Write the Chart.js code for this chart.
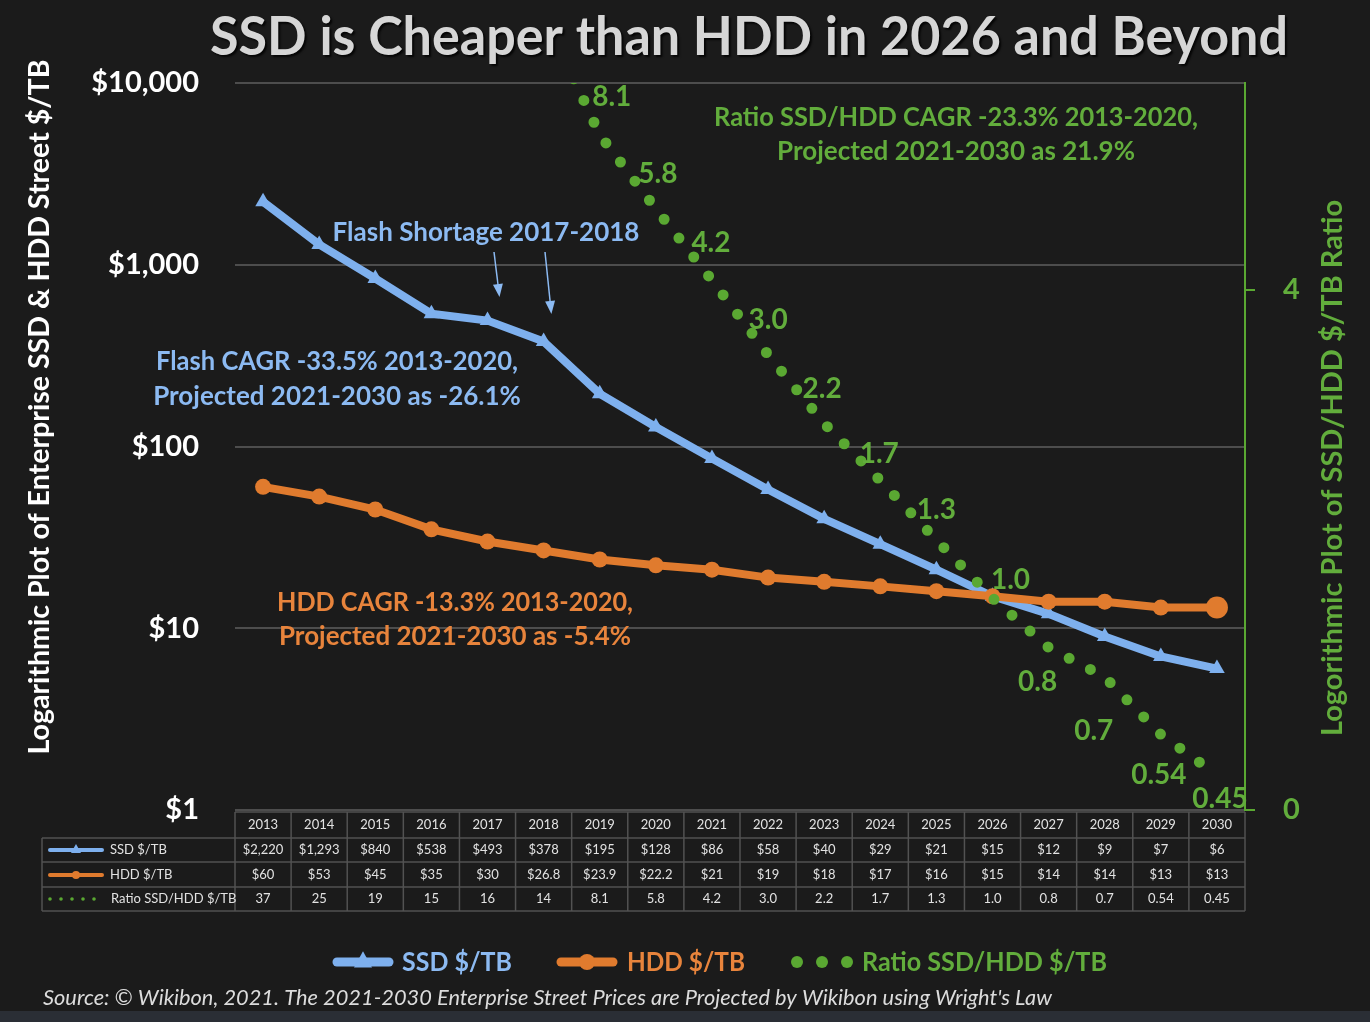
<!DOCTYPE html>
<html>
<head>
<meta charset="utf-8">
<style>
  html, body { margin: 0; padding: 0; background: #1b1b1b; }
  #wrap { width: 1370px; height: 1022px; position: relative; }
</style>
<script src="https://cdn.jsdelivr.net/npm/chart.js@4.4.1/dist/chart.umd.min.js"></script>
</head>
<body>
<div id="wrap"><canvas id="chart" width="1370" height="1022"></canvas></div>
<script>
// --- data ---
const years = ['2013','2014','2015','2016','2017','2018','2019','2020','2021','2022','2023','2024','2025','2026','2027','2028','2029','2030'];
const ssdValues = [2220, 1293, 840, 538, 493, 378, 195, 128, 86, 58, 40, 29, 21, 15, 12, 9, 7, 6];
const hddValues = [60, 53, 45, 35, 30, 26.8, 23.9, 22.2, 21, 19, 18, 17, 16, 15, 14, 14, 13, 13];
const ratioValues = [37, 25, 19, 15, 16, 14, 8.1, 5.8, 4.2, 3.0, 2.2, 1.7, 1.3, 1.0, 0.8, 0.7, 0.54, 0.45];

// table texts
const ssdCells = ['$2,220','$1,293','$840','$538','$493','$378','$195','$128','$86','$58','$40','$29','$21','$15','$12','$9','$7','$6'];
const hddCells = ['$60','$53','$45','$35','$30','$26.8','$23.9','$22.2','$21','$19','$18','$17','$16','$15','$14','$14','$13','$13'];
const ratioCells = ['37','25','19','15','16','14','8.1','5.8','4.2','3.0','2.2','1.7','1.3','1.0','0.8','0.7','0.54','0.45'];

// axis ticks
const leftTicks = [1, 10, 100, 1000, 10000];
const rightTicks = [0, 4];

// colours
const BLUE = '#7eb0ee', BLUE_TXT = '#8cbaf2';
const ORANGE = '#e07b2e', ORANGE_TXT = '#e8843c';
const GREEN = '#5aa832', GREEN_TXT = '#62ad3c';
const FONT = 'Lato, "Open Sans", sans-serif';

// ratio label offsets from each point (null = not shown)
const ratioLabelOffsets = [null, null, null, null, null, null,
  [12, -38], [2, -35], [-1, -37], [0, -35], [-2, -34], [-1, -27], [0, -30],
  [18, -18], [-11, 35], [-11, 54], [-2, 40], [3, 24]];

function txt(ctx, s, x, y, font, color, align, maxW) {
    ctx.font = font;
    ctx.fillStyle = color;
    ctx.textAlign = align || 'center';
    ctx.textBaseline = 'middle';
    if (maxW) ctx.fillText(s, x, y, maxW); else ctx.fillText(s, x, y);
}

function vtxt(ctx, s, x, y, font, color, maxW) {
    ctx.save();
    ctx.translate(x, y);
    ctx.rotate(-Math.PI / 2);
    txt(ctx, s, 0, 0, font, color, 'center', maxW);
    ctx.restore();
}

function arrow(ctx, x1, y1, x2, y2, color) {
    ctx.save();
    ctx.strokeStyle = color;
    ctx.fillStyle = color;
    ctx.lineWidth = 1.5;
    ctx.beginPath();
    ctx.moveTo(x1, y1);
    ctx.lineTo(x2, y2);
    ctx.stroke();
    const a = Math.atan2(y2 - y1, x2 - x1);
    ctx.beginPath();
    ctx.moveTo(x2 + 4 * Math.cos(a), y2 + 4 * Math.sin(a));
    ctx.lineTo(x2 - 9 * Math.cos(a) + 5 * Math.sin(a), y2 - 9 * Math.sin(a) - 5 * Math.cos(a));
    ctx.lineTo(x2 - 9 * Math.cos(a) - 5 * Math.sin(a), y2 - 9 * Math.sin(a) + 5 * Math.cos(a));
    ctx.closePath();
    ctx.fill();
    ctx.restore();
}

// little legend glyphs (used in table and bottom legend)
function lineIcon(ctx, x1, x2, y, color, w, style, r) {
    ctx.save();
    ctx.strokeStyle = color;
    ctx.fillStyle = color;
    ctx.lineWidth = w;
    ctx.lineCap = 'round';
    ctx.beginPath();
    ctx.moveTo(x1, y);
    ctx.lineTo(x2, y);
    ctx.stroke();
    const cx = (x1 + x2) / 2;
    ctx.beginPath();
    if (style === 'triangle') {
        ctx.moveTo(cx, y - r * 1.2);
        ctx.lineTo(cx + r, y + r * 0.6);
        ctx.lineTo(cx - r, y + r * 0.6);
        ctx.closePath();
    } else {
        ctx.arc(cx, y, r, 0, Math.PI * 2);
    }
    ctx.fill();
    ctx.restore();
}

function dotsIcon(ctx, xs, y, r) {
    ctx.save();
    ctx.fillStyle = GREEN;
    xs.forEach(x => { ctx.beginPath(); ctx.arc(x, y, r, 0, Math.PI * 2); ctx.fill(); });
    ctx.restore();
}

const decor = {
    id: 'decor',
    beforeDraw(chart) {
        const ctx = chart.ctx;
        ctx.save();
        ctx.fillStyle = '#1b1b1b';
        ctx.fillRect(0, 0, chart.width, chart.height);
        ctx.fillStyle = '#2a2e35';
        ctx.fillRect(0, 1011, chart.width, 11);
        ctx.restore();
    },
    afterDatasetsDraw(chart) {
        const ctx = chart.ctx;
        const x = chart.scales.x, yr = chart.scales.yr;
        // ratio point labels
        ratioValues.forEach((v, i) => {
            const off = ratioLabelOffsets[i];
            if (!off) return;
            const px = x.getPixelForValue(i), py = yr.getPixelForValue(v);
            txt(ctx, ratioCells[i], px + off[0], py + off[1], 'bold 28px ' + FONT, GREEN_TXT, 'center');
        });
    },
    afterDraw(chart) {
        const ctx = chart.ctx;
        const x = chart.scales.x;
        const area = chart.chartArea;

        // title
        ctx.save();
        ctx.shadowColor = 'rgba(0,0,0,0.8)';
        ctx.shadowOffsetX = 2; ctx.shadowOffsetY = 2; ctx.shadowBlur = 2;
        txt(ctx, 'SSD is Cheaper than HDD in 2026 and Beyond', 749, 38, 'bold 54px ' + FONT, '#d6d6d6', 'center', 1078);
        ctx.restore();

        // axis titles
        vtxt(ctx, 'Logarithmic Plot of Enterprise SSD & HDD Street $/TB', 40, 407, 'bold 29px ' + FONT, '#ffffff', 695);
        vtxt(ctx, 'Logorithmic Plot of SSD/HDD $/TB Ratio', 1333, 468, 'bold 29px ' + FONT, GREEN_TXT, 547);

        // annotations
        txt(ctx, 'Flash Shortage 2017-2018', 486, 233, 'bold 26px ' + FONT, BLUE_TXT, 'center', 308);
        arrow(ctx, 494, 252, 499, 293, BLUE_TXT);
        arrow(ctx, 545, 252, 551, 310, BLUE_TXT);
        txt(ctx, 'Flash CAGR -33.5% 2013-2020,', 337, 362, 'bold 26px ' + FONT, BLUE_TXT, 'center', 362);
        txt(ctx, 'Projected 2021-2030 as -26.1%', 337, 397, 'bold 26px ' + FONT, BLUE_TXT, 'center', 368);
        txt(ctx, 'HDD CAGR -13.3% 2013-2020,', 455, 603, 'bold 26px ' + FONT, ORANGE_TXT, 'center', 356);
        txt(ctx, 'Projected 2021-2030 as -5.4%', 455, 637, 'bold 26px ' + FONT, ORANGE_TXT, 'center', 352);
        txt(ctx, 'Ratio SSD/HDD CAGR -23.3% 2013-2020,', 956, 118, 'bold 26px ' + FONT, GREEN_TXT, 'center', 484);
        txt(ctx, 'Projected 2021-2030 as 21.9%', 956, 152, 'bold 26px ' + FONT, GREEN_TXT, 'center', 358);

        // data table
        const colW = (area.right - area.left) / years.length;
        const rowsY = [812, 838, 862, 887, 911];
        const tableLeft = 42;
        ctx.save();
        ctx.strokeStyle = '#525252';
        ctx.lineWidth = 1.5;
        ctx.beginPath();
        ctx.moveTo(area.left, rowsY[0]); ctx.lineTo(area.right, rowsY[0]);
        for (let r = 1; r < rowsY.length; r++) {
            ctx.moveTo(tableLeft, rowsY[r]); ctx.lineTo(area.right, rowsY[r]);
        }
        ctx.moveTo(tableLeft, rowsY[1]); ctx.lineTo(tableLeft, rowsY[4]);
        for (let c = 0; c <= years.length; c++) {
            const cx = area.left + c * colW;
            ctx.moveTo(cx, rowsY[0]); ctx.lineTo(cx, rowsY[4]);
        }
        ctx.stroke();
        ctx.restore();
        const cellFont = '13px ' + FONT;
        const rows = [years, ssdCells, hddCells, ratioCells];
        rows.forEach((row, r) => {
            const cy = (rowsY[r] + rowsY[r + 1]) / 2;
            row.forEach((s, i) => {
                txt(ctx, s, x.getPixelForValue(i), cy, cellFont, '#e2e2e2', 'center', colW - 4);
            });
        });
        lineIcon(ctx, 50, 102, 850, BLUE, 4, 'triangle', 5);
        txt(ctx, 'SSD $/TB', 110, 850, cellFont, '#e2e2e2', 'left');
        lineIcon(ctx, 50, 102, 875, ORANGE, 4, 'circle', 4);
        txt(ctx, 'HDD $/TB', 110, 875, cellFont, '#e2e2e2', 'left');
        dotsIcon(ctx, [50, 61, 72, 83, 94], 899, 1.8);
        txt(ctx, 'Ratio SSD/HDD $/TB', 111, 899, cellFont, '#e2e2e2', 'left');

        // bottom legend
        lineIcon(ctx, 337, 389, 962, BLUE, 9, 'triangle', 9);
        txt(ctx, 'SSD $/TB', 402, 962, 'bold 27px ' + FONT, BLUE_TXT, 'left', 110);
        lineIcon(ctx, 561, 613, 962, ORANGE, 9, 'circle', 8);
        txt(ctx, 'HDD $/TB', 627, 962, 'bold 27px ' + FONT, ORANGE_TXT, 'left', 118);
        dotsIcon(ctx, [797, 822, 847], 962, 6);
        txt(ctx, 'Ratio SSD/HDD $/TB', 862, 962, 'bold 27px ' + FONT, GREEN_TXT, 'left', 245);

        // source line
        txt(ctx, "Source: \u00A9 Wikibon, 2021. The 2021-2030 Enterprise Street Prices are Projected by Wikibon using Wright's Law",
            43, 998, 'italic 22px ' + FONT, '#dcdcdc', 'left', 1009);
    }
};

const ctx = document.getElementById('chart').getContext('2d');
const chart = new Chart(ctx, {
    type: 'line',
    data: {
        labels: years,
        datasets: [{
            label: 'Ratio SSD/HDD $/TB',
            data: ratioValues,
            yAxisID: 'yr',
            order: 0,
            borderColor: GREEN,
            borderWidth: 11,
            borderDash: [0, 24],
            borderCapStyle: 'round',
            pointRadius: 0,
            tension: 0
        }, {
            label: 'HDD $/TB',
            data: hddValues,
            yAxisID: 'y',
            order: 1,
            borderColor: ORANGE,
            borderWidth: 8,
            pointStyle: 'circle',
            pointRadius: [8, 8, 8, 8, 8, 8, 8, 8, 8, 8, 8, 8, 8, 8, 8, 8, 8, 11],
            pointBackgroundColor: ORANGE,
            pointBorderWidth: 0,
            tension: 0
        }, {
            label: 'SSD $/TB',
            data: ssdValues,
            yAxisID: 'y',
            order: 2,
            borderColor: BLUE,
            borderWidth: 8,
            pointStyle: 'triangle',
            pointRadius: 9,
            pointBackgroundColor: BLUE,
            pointBorderWidth: 0,
            tension: 0
        }]
    },
    options: {
        responsive: false,
        animation: false,
        events: [],
        layout: { padding: { top: 83, bottom: 212, left: 0, right: 0 } },
        plugins: {
            legend: { display: false },
            tooltip: { enabled: false },
            title: { display: false }
        },
        scales: {
            x: {
                type: 'category',
                offset: true,
                display: false
            },
            y: {
                type: 'logarithmic',
                position: 'left',
                min: 1,
                max: 10000,
                afterBuildTicks: s => { s.ticks = leftTicks.map(v => ({ value: v })); },
                afterFit: s => { s.width = 235; },
                ticks: {
                    color: '#ffffff',
                    font: { family: FONT, size: 29, weight: 'bold' },
                    padding: 36,
                    callback: v => '$' + Number(v).toLocaleString('en-US')
                },
                grid: { color: '#4d4d4d', lineWidth: 2, drawTicks: false },
                border: { display: false }
            },
            yr: {
                type: 'logarithmic',
                display: false,
                min: 0.384,
                max: 10.23
            },
            y2: {
                type: 'linear',
                position: 'right',
                min: 0,
                max: 5.59,
                afterBuildTicks: s => { s.ticks = rightTicks.map(v => ({ value: v })); },
                afterFit: s => { s.width = 125; },
                ticks: {
                    color: GREEN_TXT,
                    font: { family: FONT, size: 29, weight: 'bold' },
                    padding: 28
                },
                grid: { drawOnChartArea: false, color: GREEN, lineWidth: 2, tickLength: 10 },
                border: { color: GREEN, width: 2 }
            }
        }
    },
    plugins: [decor]
});
</script>
</body>
</html>
